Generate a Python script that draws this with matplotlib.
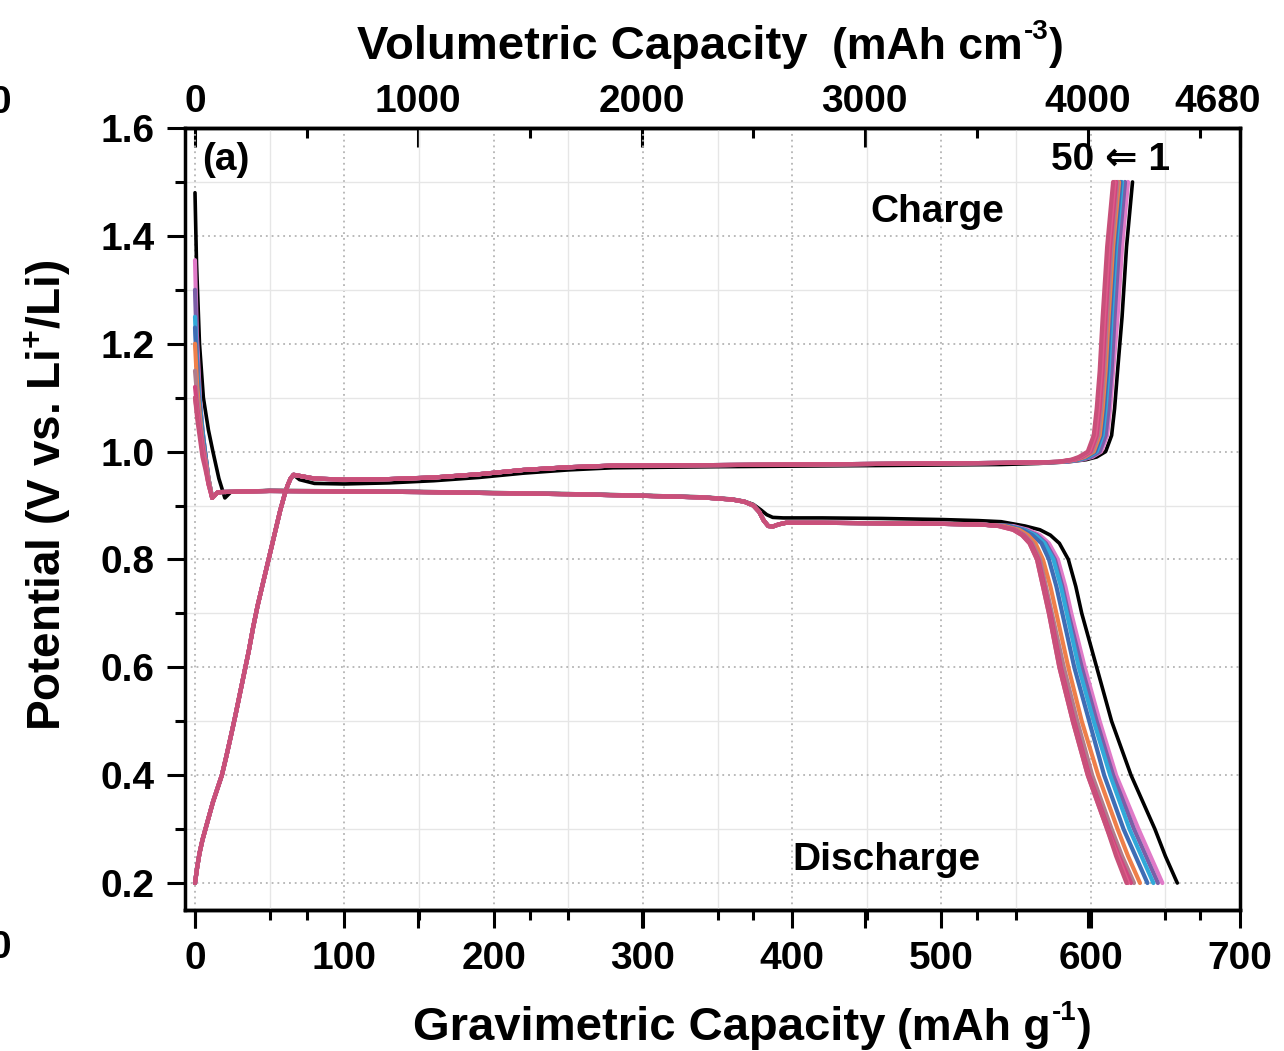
import matplotlib
matplotlib.use("Agg")
import matplotlib.pyplot as plt
import matplotlib.transforms as mtransforms
from matplotlib.ticker import MultipleLocator, FixedLocator, NullFormatter

plt.rcParams['font.family'] = ['Liberation Sans', 'DejaVu Sans']
plt.rcParams['font.weight'] = 'bold'
plt.rcParams['mathtext.fontset'] = 'custom'
plt.rcParams['mathtext.rm'] = 'Liberation Sans:bold'
plt.rcParams['mathtext.bf'] = 'Liberation Sans:bold'
plt.rcParams['mathtext.default'] = 'rm'

# ---------------- data ----------------
cycles = [1, 5, 10, 15, 20, 25, 30, 40, 45, 50]
colors = ['#000000', '#E07AC8', '#7B5EA7', '#31A9D9', '#3E6DB5',
          '#EE7F4A', '#B07C8C', '#D0457E', '#E05A8A', '#C8507A']

# discharge (lithiation) - initial drop, per cycle
dis_head_x = [
    [0, 1, 3, 5.6, 9, 12, 16, 20, 24],
    [0, 1.2, 3.3, 5, 6.7, 9, 11.5, 15],
    [0, 1.2, 3.3, 5, 6.7, 9, 11.5, 15],
    [0, 1.5, 3.5, 5, 6.7, 9, 11.5, 15],
    [0, 1.5, 3.5, 5, 6.7, 9, 11.5, 15],
    [0, 1.5, 3.5, 5, 6.7, 9, 11.5, 15],
    [0, 1.5, 3.5, 5, 6.7, 9, 11.5, 15],
    [0, 1.5, 3.5, 5, 6.7, 9, 11.5, 15],
    [0, 1.5, 3.5, 5, 6.7, 9, 11.5, 15],
    [0, 1.5, 3.5, 5, 6.7, 9, 11.5, 15],
]
dis_head_v = [
    [1.48, 1.35, 1.20, 1.10, 1.04, 1.00, 0.95, 0.914, 0.925],
    [1.355, 1.22, 1.10, 1.04, 1.00, 0.95, 0.914, 0.924],
    [1.30, 1.19, 1.09, 1.04, 1.00, 0.95, 0.914, 0.924],
    [1.25, 1.15, 1.08, 1.04, 1.00, 0.95, 0.914, 0.924],
    [1.23, 1.14, 1.07, 1.03, 1.00, 0.95, 0.914, 0.924],
    [1.20, 1.12, 1.06, 1.02, 0.99, 0.95, 0.914, 0.924],
    [1.15, 1.10, 1.05, 1.02, 0.99, 0.95, 0.914, 0.924],
    [1.12, 1.08, 1.04, 1.01, 0.98, 0.94, 0.914, 0.924],
    [1.10, 1.07, 1.03, 1.00, 0.98, 0.94, 0.914, 0.924],
    [1.10, 1.06, 1.02, 0.99, 0.97, 0.94, 0.914, 0.924],
]
# discharge plateaus
dis_plat_black_x = [30, 50, 100, 150, 200, 250, 300, 340, 360, 368, 374, 379, 383, 387, 394, 420, 460, 500, 525, 540]
dis_plat_black_v = [0.926, 0.928, 0.927, 0.926, 0.924, 0.922, 0.919, 0.916, 0.912, 0.908, 0.902, 0.892, 0.883,
                    0.878, 0.877, 0.877, 0.876, 0.874, 0.872, 0.870]
dis_plat_col_x = [18, 50, 100, 150, 200, 250, 300, 340, 360, 368, 374, 378, 381, 384, 387, 391, 396, 420, 460,
                  500, 520, 530]
dis_plat_col_v = [0.925, 0.927, 0.926, 0.925, 0.923, 0.921, 0.918, 0.915, 0.911, 0.907, 0.900, 0.888, 0.872,
                  0.862, 0.861, 0.865, 0.868, 0.868, 0.867, 0.866, 0.865, 0.864]
# discharge tails: capacity at given potentials, per cycle
dis_tail_v = [0.862, 0.855, 0.845, 0.83, 0.80, 0.75, 0.70, 0.60, 0.50, 0.40, 0.30, 0.25, 0.20]
dis_tail_x = [
    [556, 566, 573, 579, 585, 590, 594, 604, 614, 627, 643, 650, 658],
    [548, 558, 566, 572, 578, 583, 587, 596, 606, 617, 632, 640, 648],
    [546, 556, 564, 570, 576, 581, 585, 594, 604, 615, 629, 637, 645],
    [545, 555, 563, 569, 575, 580, 584, 592, 602, 613, 626, 634, 642],
    [544, 554, 561, 567, 572, 577, 581, 589, 599, 609, 622, 630, 638],
    [542, 552, 558, 563, 568, 573, 577, 585, 594, 605, 618, 625, 633],
    [540, 550, 556, 561, 566, 570, 574, 582, 591, 601, 614, 621, 629],
    [539, 549, 555, 560, 565, 569, 573, 580, 589, 599, 612, 619, 627],
    [538, 548, 554, 559, 564, 568, 572, 579, 588, 598, 611, 618, 625],
    [538, 548, 554, 559, 564, 568, 572, 579, 588, 598, 611, 617, 624],
]

# charge (delithiation) - common rise from 0.2 V
chg_head_x = [0, 1.5, 3, 5, 7, 9.5, 12, 15, 18, 21, 24, 27, 30, 33, 36, 39, 42, 45, 48, 51, 54, 57, 60,
              62, 64, 66]
chg_head_v = [0.20, 0.23, 0.255, 0.28, 0.30, 0.325, 0.35, 0.375, 0.40, 0.435, 0.472, 0.51, 0.55, 0.59,
              0.63, 0.675, 0.715, 0.75, 0.785, 0.82, 0.855, 0.89, 0.92, 0.937, 0.95, 0.957]
chg_plat_x = [70, 80, 100, 130, 160, 190, 220, 250, 280, 350, 450, 540, 565]
chg_plat_col_v = [0.955, 0.950, 0.948, 0.949, 0.952, 0.958, 0.966, 0.971, 0.974, 0.975, 0.977, 0.979, 0.980]
chg_plat_black_v = [0.948, 0.941, 0.940, 0.942, 0.946, 0.952, 0.960, 0.966, 0.970, 0.972, 0.974, 0.976, 0.978]
# charge tails: capacity at given potentials, per cycle
chg_tail_v = [0.981, 0.985, 0.99, 1.00, 1.03, 1.08, 1.15, 1.25, 1.38, 1.50]
chg_tail_x = [
    [585, 597, 604, 610, 614, 616, 618, 621, 624, 628],
    [583, 594, 601, 607, 611, 613, 615, 618, 621, 625],
    [582, 593, 600, 606, 610, 612, 614, 616, 619, 623],
    [581, 592, 598, 604, 608, 610, 612, 614, 617, 621],
    [580, 591, 597, 603, 607, 609, 611, 613, 616, 620],
    [580, 590, 596, 602, 606, 608, 610, 612, 615, 619],
    [579, 589, 595, 601, 605, 607, 609, 611, 614, 618],
    [579, 589, 594, 600, 604, 606, 608, 610, 613, 617],
    [578, 588, 593, 599, 603, 605, 607, 609, 612, 616],
    [578, 587, 592, 598, 602, 604, 606, 608, 611, 615],
]

x_major = [0, 100, 200, 300, 400, 500, 600, 700]
y_major = [0.2, 0.4, 0.6, 0.8, 1.0, 1.2, 1.4, 1.6]
top_ticks = [0, 1000, 2000, 3000, 4000, 4680]
top_max = 4680
x_max = 700

W, H = 1284, 1051

# ---------------- figure ----------------
fig = plt.figure(figsize=(W / 100, H / 100), dpi=100)
ax = fig.add_axes([185 / W, 141 / H, (1240 - 185) / W, (910 - 128) / H])

for i in range(len(cycles)):
    col = colors[i]
    lw = 2.6 if i == 0 else 3.0
    if i == 0:
        px, pv = dis_plat_black_x, dis_plat_black_v
        cpv = chg_plat_black_v
    else:
        px, pv = dis_plat_col_x, dis_plat_col_v
        cpv = chg_plat_col_v
    dx = list(dis_head_x[i]) + list(px) + list(dis_tail_x[i])
    dv = list(dis_head_v[i]) + list(pv) + list(dis_tail_v)
    cx = list(chg_head_x) + list(chg_plat_x) + list(chg_tail_x[i])
    cv = list(chg_head_v) + list(cpv) + list(chg_tail_v)
    ax.plot(dx, dv, color=col, lw=lw, solid_capstyle='round', solid_joinstyle='round', zorder=3)
    ax.plot(cx, cv, color=col, lw=lw, solid_capstyle='round', solid_joinstyle='round', zorder=3)

ax.set_xlim(-6.7, x_max)
ax.set_ylim(0.15, 1.6)

ax.xaxis.set_major_locator(FixedLocator(x_major))
ax.xaxis.set_minor_locator(MultipleLocator(50))
ax.yaxis.set_major_locator(FixedLocator(y_major))
ax.yaxis.set_minor_locator(MultipleLocator(0.1))
ax.set_xticklabels([str(v) for v in x_major])
ax.set_yticklabels(['%.1f' % v for v in y_major])

ax.grid(which='major', color='#b4b4b4', linestyle=(0, (1, 2.2)), linewidth=1.3, zorder=0)
ax.grid(which='minor', color='#e6e6e6', linestyle='-', linewidth=1.0, zorder=0)

ax.tick_params(which='both', direction='out', top=False, right=False, width=2.2, labelsize=28, pad=9)
ax.tick_params(which='major', length=13)
ax.tick_params(which='minor', length=7)
for s in ax.spines.values():
    s.set_linewidth(2.5)

g2v = lambda g: g * top_max / x_max
v2g = lambda v: v * x_max / top_max

top = ax.secondary_xaxis('top', functions=(g2v, v2g))
top.xaxis.set_major_locator(FixedLocator(top_ticks))
top.xaxis.set_minor_locator(MultipleLocator(500))
top.set_xticklabels([str(v) for v in top_ticks])
top.tick_params(which='both', direction='in', width=2.2, labelsize=28, pad=6)
top.tick_params(which='major', length=14)
top.tick_params(which='minor', length=7)
top.spines['top'].set_linewidth(2.5)

bot2 = ax.secondary_xaxis('bottom', functions=(g2v, v2g))
bot2.xaxis.set_major_locator(FixedLocator(top_ticks[:-1]))
bot2.xaxis.set_minor_locator(MultipleLocator(500))
bot2.xaxis.set_major_formatter(NullFormatter())
bot2.tick_params(which='both', direction='out', width=2.2)
bot2.tick_params(which='major', length=13)
bot2.tick_params(which='minor', length=7)
bot2.spines['bottom'].set_linewidth(2.5)

# annotations
ax.text(5, 1.541, '(a)', fontsize=28, fontweight='bold', ha='left', va='center')
ax.text(613, 1.541, '50 \u21d0 1', fontsize=28, fontweight='bold', ha='center', va='center',
        family=['Liberation Sans', 'DejaVu Sans'])
ax.text(497, 1.444, 'Charge', fontsize=28, fontweight='bold', ha='center', va='center')
ax.text(463, 0.243, 'Discharge', fontsize=28, fontweight='bold', ha='center', va='center')

# shift the last top tick label (4680) a little to the left, as in the reference
fig.canvas.draw()
renderer = fig.canvas.get_renderer()
last_tick = top.xaxis.get_major_ticks()[-1]
shift = mtransforms.ScaledTranslation(-16 / 72, 0, fig.dpi_scale_trans)
for lbl in (last_tick.label1, last_tick.label2):
    lbl.set_transform(lbl.get_transform() + shift)


def run_text(x_px, base_px, pieces):
    """pieces: (text, size, raise_px). Draws adjacent texts from pixel x, baseline y (from top)."""
    x = x_px
    for s, size, dy in pieces:
        t = fig.text(x / W, 1 - (base_px - dy) / H, s, fontsize=size, fontweight='bold',
                     ha='left', va='baseline')
        bb = t.get_window_extent(renderer)
        x = bb.x1 + 1


# axis titles
run_text(357, 59, [('Volumetric Capacity', 34, 0)])
run_text(832, 59, [('(mAh cm', 32, 0), ('-3', 20, 20), (')', 32, 0)])
run_text(413, 1040, [('Gravimetric Capacity', 34, 0)])
run_text(897, 1040, [('(mAh g', 32, 0), ('-1', 20, 20), (')', 32, 0)])
fig.text(47 / W, 1 - 495 / H, 'Potential (V vs. Li$^{+}$/Li)', fontsize=33, fontweight='bold',
         ha='center', va='center', rotation=90)

# fragments of neighbouring panel labels at the left edge
fig.text(0.0, 1 - 103 / H, '0', fontsize=28, fontweight='bold', ha='center', va='center')
fig.text(0.0, 1 - 948 / H, '0', fontsize=28, fontweight='bold', ha='center', va='center')

fig.savefig('out.png', dpi=100)
